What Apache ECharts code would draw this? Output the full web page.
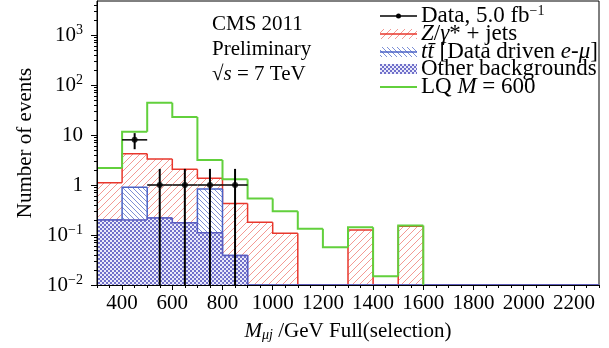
<!DOCTYPE html>
<html><head><meta charset="utf-8">
<script src="https://cdn.jsdelivr.net/npm/echarts@6/dist/echarts.min.js"></script>
<style>html,body{margin:0;padding:0;background:#fff}#c{width:609px;height:348px}</style>
</head><body><div id="c"></div>
<script>
// ---- data ----
const binEdges = [300,400,500,600,700,800,900,1000,1100,1200,1300,1400,1500,1600,1700,1800,1900,2000,2100,2200,2300];
// individual (stacked) contributions per bin
const otherBkg = [0.2,0.2,0.22,0.176,0.111,0.039,0,0,0,0,0,0,0,0,0,0,0,0,0,0];
const ttbar    = [0,0.7,0,0,0.72,0,0,0,0,0,0,0,0,0,0,0,0,0,0,0];
const zjets    = [0.91,3.3,3.08,1.88,0.53,0.39,0.18,0.108,0,0,0.126,0,0.15,0,0,0,0,0,0,0];
const lqM600   = [2.2,11.6,44,23,3.16,1.3,0.54,0.30,0.134,0.057,0.143,0.015,0.155,0,0,0,0,0,0,0];
const dataX     = [450,550,650,750,850];
const dataY     = [8,1,1,1,1];
const dataErrDn = [2.8,1,1,1,1];
const dataErrUp = [2.9,1.1,1.1,1.1,1.1];
const dataHalfW = 50;
const xTickLabels = [400,600,800,1000,1200,1400,1600,1800,2000,2200];
const yTickLabels = [0.01,0.1,1,10,100,1000];

const YMIN = 0.01, YMAX = Math.pow(10,3.68);
const FONT = "'Liberation Serif','Times New Roman',serif";

// stacked tops
const stackOther = otherBkg.slice();
const stackTT = otherBkg.map((v,i)=>v+ttbar[i]);
const stackZ = stackTT.map((v,i)=>v+zjets[i]);

// minor log ticks
const yMinor = [];
for (let e=-2;e<=3;e++) for (let k=2;k<=9;k++){ const v=k*Math.pow(10,e); if (v<YMAX) yMinor.push(v); }

// ---- patterns ----
function hatch(size, color, dir, lw){
  const c=document.createElement('canvas'); c.width=c.height=size;
  const g=c.getContext('2d'); g.fillStyle='#fff'; g.fillRect(0,0,size,size);
  g.strokeStyle=color; g.lineWidth=lw||1; g.beginPath();
  if(dir==='/'){ g.moveTo(-1,size+1); g.lineTo(size+1,-1); g.moveTo(-2,2); g.lineTo(2,-2); g.moveTo(size-2,size+2); g.lineTo(size+2,size-2); }
  else { g.moveTo(-1,-1); g.lineTo(size+1,size+1); g.moveTo(size-2,-2); g.lineTo(size+2,2); g.moveTo(-2,size-2); g.lineTo(2,size+2); }
  g.stroke(); return c;
}
function dots(){
  const c=document.createElement('canvas'); c.width=c.height=4;
  const g=c.getContext('2d'); g.fillStyle='#eaeafa'; g.fillRect(0,0,4,4);
  g.fillStyle='#7070ca'; g.fillRect(0,0,2,2); g.fillRect(2,2,2,2);
  return c;
}
const redPat = {image: hatch(7,'#f39a94','/',1), repeat:'repeat'};
const bluePat = {image: hatch(5,'#7d8fd6','\\',1), repeat:'repeat'};
const otherPat = {image: dots(), repeat:'repeat'};

function histSeries(name, tops, fill, stroke, lw, z, skipZero){
  const data = tops.map((v,i)=>[binEdges[i], binEdges[i+1], v, i>0?tops[i-1]:0]);
  return {
    type:'custom', name, z, clip:true, silent:true,
    encode:{x:[0,1], y:2},
    data,
    renderItem(params, api){
      const x0=api.value(0), x1=api.value(1), v=api.value(2), p=api.value(3);
      const yb = api.coord([x0, YMIN])[1];
      const yOf = val => val>YMIN ? api.coord([x0,val])[1] : yb;
      const X0 = api.coord([x0,1])[0], X1 = api.coord([x1,1])[0];
      const ch = [];
      if (fill && v>0) ch.push({type:'rect', shape:{x:X0,y:yOf(v),width:X1-X0,height:yb-yOf(v)}, style:{fill, stroke:null}});
      if (skipZero && v<=0){
        if (p>0) ch.push({type:'line', shape:{x1:X0,y1:yOf(p),x2:X0,y2:yb}, style:{stroke, lineWidth:lw}});
      } else {
        ch.push({type:'polyline', shape:{points:[[X0,yOf(p)],[X0,yOf(v)],[X1,yOf(v)]]}, style:{stroke, lineWidth:lw, fill:null}});
      }
      return {type:'group', children:ch};
    }
  };
}

const errSeries = {
  type:'custom', name:'Data', z:10, clip:true, silent:true,
  encode:{x:0,y:1},
  data: dataX.map((x,i)=>[x, dataY[i], dataY[i]-dataErrDn[i], dataY[i]+dataErrUp[i]]),
  renderItem(params, api){
    const x=api.value(0), y=api.value(1), lo=api.value(2), hi=api.value(3);
    const yb = api.coord([x, YMIN])[1];
    const c = api.coord([x,y]);
    const yl = lo>YMIN ? api.coord([x,lo])[1] : yb;
    const yh = api.coord([x,hi])[1];
    const xl = api.coord([x-dataHalfW,y])[0], xr = api.coord([x+dataHalfW,y])[0];
    return {type:'group', children:[
      {type:'line', shape:{x1:c[0],y1:yh,x2:c[0],y2:yl}, style:{stroke:'#000', lineWidth:2}},
      {type:'line', shape:{x1:xl,y1:c[1],x2:xr,y2:c[1]}, style:{stroke:'#000', lineWidth:1.5}}
    ]};
  }
};

function yFmt(v){
  const e = Math.round(Math.log10(v));
  if (e===0) return '1';
  if (e===1) return '10';
  return '{b|10}{s|' + (e<0?'\u2212':'') + Math.abs(e) + '}';
}

const chart = echarts.init(document.getElementById('c'), null, {renderer:'canvas'});
const legX0 = 380, legX1 = 417, legTX = 421;
const legRows = [16,34,52,69,87];
const lf = 23;
const legRich = {
  n:{fontFamily:FONT,fontSize:lf,color:'#000'},
  i:{fontFamily:FONT,fontSize:lf,fontStyle:'italic',color:'#000'},
  s:{fontFamily:FONT,fontSize:14,color:'#000',verticalAlign:'top',lineHeight:14}
};
chart.setOption({
  animation:false,
  grid:{left:97, right:10, top:1, bottom:63, show:true, borderColor:'#000', borderWidth:1, backgroundColor:'transparent'},
  xAxis:[{
    type:'value', min:300, max:2300, position:'bottom', z:20,
    axisLine:{show:true, onZero:false, lineStyle:{color:'#000', width:1}},
    axisTick:{show:true, customValues:xTickLabels, length:5, lineStyle:{color:'#000'}},
    axisLabel:{customValues:xTickLabels, formatter:v=>String(v), fontFamily:FONT, fontSize:21, color:'#000', margin:8},
    splitLine:{show:false},
    name:'{i|M}{sub|\u03bcj}{n| /GeV Full(selection)}', nameLocation:'middle', nameGap:36,
    nameTextStyle:{fontFamily:FONT, fontSize:21, color:'#000', rich:{
      i:{fontFamily:FONT,fontSize:21,fontStyle:'italic',color:'#000'},
      sub:{fontFamily:FONT,fontSize:14,fontStyle:'italic',color:'#000',verticalAlign:'bottom',lineHeight:14},
      n:{fontFamily:FONT,fontSize:21,color:'#000'}}}
  },{
    type:'value', min:300, max:2300, interval:50, position:'bottom', z:20,
    axisLine:{show:false}, axisTick:{show:true, length:3, lineStyle:{color:'#000'}},
    axisLabel:{show:false}, splitLine:{show:false}
  }],
  yAxis:[{
    type:'log', logBase:10, min:YMIN, max:YMAX, position:'left', z:20,
    axisLine:{show:true, onZero:false, lineStyle:{color:'#000', width:1}},
    axisTick:{show:true, customValues:yTickLabels, length:6, lineStyle:{color:'#000'}},
    axisLabel:{customValues:yTickLabels, formatter:yFmt, fontFamily:FONT, fontSize:21, color:'#000', margin:14,
      rich:{b:{fontFamily:FONT,fontSize:21,color:'#000',lineHeight:24}, s:{fontFamily:FONT,fontSize:14,color:'#000',verticalAlign:'top',lineHeight:14}}},
    splitLine:{show:false}, minorTick:{show:false},
    name:'Number of events', nameLocation:'middle', nameGap:60, nameRotate:90,
    nameTextStyle:{fontFamily:FONT, fontSize:21, color:'#000'}
  },{
    type:'log', logBase:10, min:YMIN, max:YMAX, position:'left', z:20,
    axisLine:{show:false}, axisTick:{show:true, customValues:yMinor, length:3, lineStyle:{color:'#000'}},
    axisLabel:{show:false}, splitLine:{show:false}
  }],
  series:[
    histSeries('Z/γ* + jets', stackZ, redPat, '#e8372c', 1.5, 2, false),
    histSeries('ttbar', stackTT, bluePat, '#4a62c6', 1.5, 3, false),
    histSeries('Other backgrounds', stackOther, otherPat, '#5a5cc0', 1.5, 4, false),
    histSeries('LQ M = 600', lqM600, null, '#62d03c', 2, 5, true),
    errSeries,
    {type:'scatter', name:'Data points', z:11, silent:true, symbol:'circle', symbolSize:6,
      itemStyle:{color:'#000'}, data:dataX.map((x,i)=>[x,dataY[i]])}
  ],
  graphic:[
    {type:'text', x:212, y:24, style:{text:'CMS 2011', fontFamily:FONT, fontSize:21, fill:'#000', verticalAlign:'middle'}},
    {type:'text', x:212, y:49, style:{text:'Preliminary', fontFamily:FONT, fontSize:21, fill:'#000', verticalAlign:'middle'}},
    {type:'text', x:212, y:74, style:{text:'{n|\u221a}{i|s}{n| = 7 TeV}', fontFamily:FONT, fontSize:21, fill:'#000', verticalAlign:'middle',
      rich:{n:{fontFamily:FONT,fontSize:21,color:'#000'}, i:{fontFamily:FONT,fontSize:21,fontStyle:'italic',color:'#000'}}}},
    // legend markers
    {type:'line', shape:{x1:legX0,y1:legRows[0],x2:legX1,y2:legRows[0]}, style:{stroke:'#000', lineWidth:1.5}},
    {type:'circle', shape:{cx:(legX0+legX1)/2, cy:legRows[0], r:2.5}, style:{fill:'#000'}},
    {type:'rect', shape:{x:legX0,y:legRows[1]-5,width:legX1-legX0,height:10}, style:{fill:redPat}},
    {type:'line', shape:{x1:legX0,y1:legRows[1],x2:legX1,y2:legRows[1]}, style:{stroke:'#e8372c', lineWidth:1.5}},
    {type:'rect', shape:{x:legX0,y:legRows[2]-5,width:legX1-legX0,height:10}, style:{fill:bluePat}},
    {type:'line', shape:{x1:legX0,y1:legRows[2],x2:legX1,y2:legRows[2]}, style:{stroke:'#4a62c6', lineWidth:1.5}},
    {type:'rect', shape:{x:legX0,y:legRows[3]-5,width:legX1-legX0,height:10}, style:{fill:otherPat}},
    {type:'line', shape:{x1:legX0,y1:legRows[4],x2:legX1,y2:legRows[4]}, style:{stroke:'#62d03c', lineWidth:2}},
    // legend texts
    {type:'text', x:legTX, y:legRows[0], style:{text:'{n|Data, 5.0 fb}{s|\u22121}', verticalAlign:'middle', rich:legRich}},
    {type:'text', x:legTX, y:legRows[1], style:{text:'{i|Z}{n|/}{i|\u03b3}{n|* + jets}', verticalAlign:'middle', rich:legRich}},
    {type:'text', x:legTX, y:legRows[2], style:{text:'{i|t\u0074\u0304}{n| [Data driven }{i|e}{n|-}{i|\u03bc}{n|]}', verticalAlign:'middle', rich:legRich}},
    {type:'text', x:legTX, y:legRows[3], style:{text:'{n|Other backgrounds}', verticalAlign:'middle', rich:legRich}},
    {type:'text', x:legTX, y:legRows[4], style:{text:'{n|LQ }{i|M}{n| = 600}', verticalAlign:'middle', rich:legRich}}
  ]
});
</script>
</body></html>
